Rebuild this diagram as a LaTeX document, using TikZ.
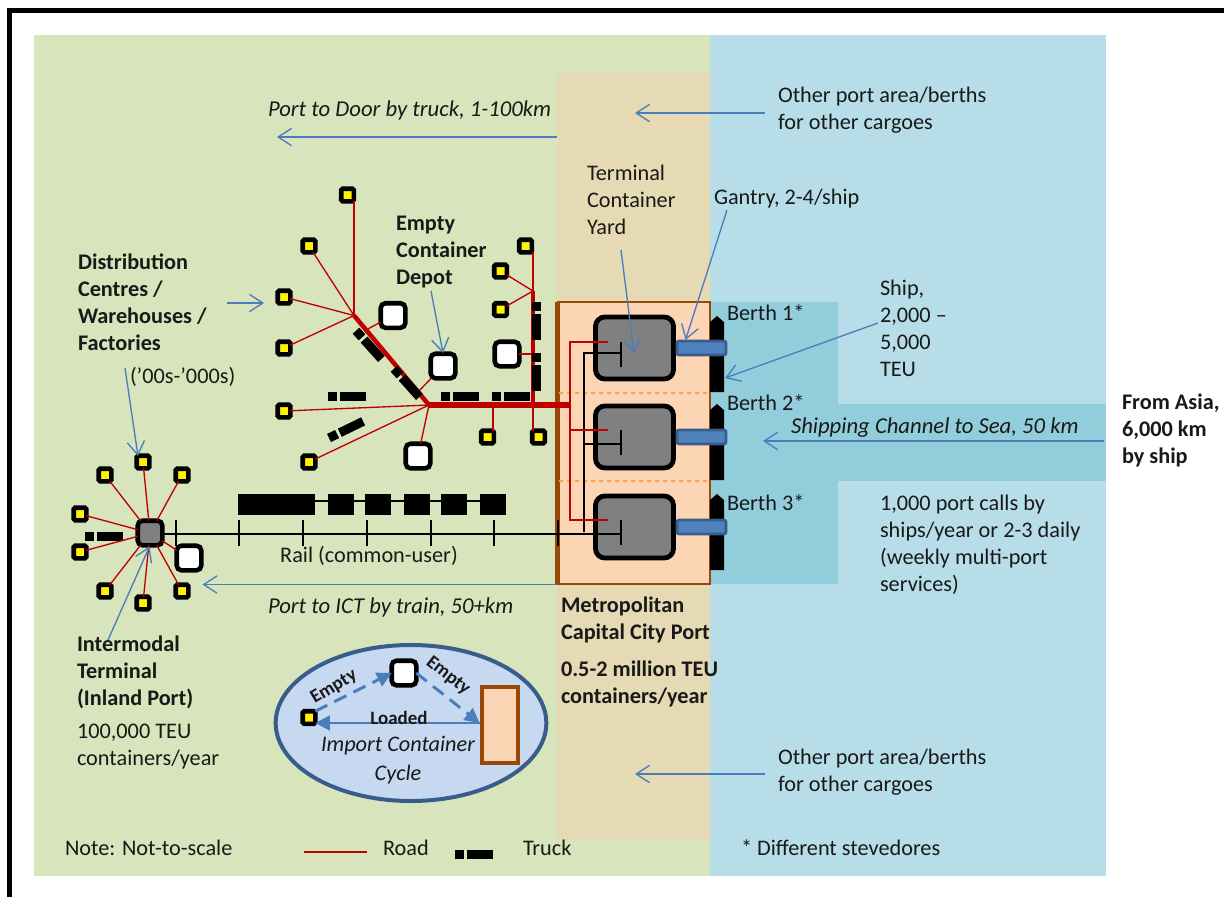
\documentclass[tikz,border=0pt]{standalone}
\usepackage{fontspec}
\setmainfont{Carlito}
\usetikzlibrary{arrows.meta,shapes.geometric}
\definecolor{landgreen}{RGB}{216,228,188}
\definecolor{seablue}{RGB}{183,222,232}
\definecolor{berthblue}{RGB}{146,205,220}
\definecolor{porttan}{RGB}{230,218,180}
\definecolor{peach}{RGB}{252,213,181}
\definecolor{portbrown}{RGB}{152,72,7}
\definecolor{roadred}{RGB}{192,0,0}
\definecolor{callblue}{RGB}{74,126,187}
\definecolor{gantryblue}{RGB}{79,129,189}
\definecolor{edgeblue}{RGB}{56,93,138}
\definecolor{cyclefill}{RGB}{198,217,241}
\definecolor{zoneorange}{RGB}{250,160,85}
\definecolor{yardgrey}{RGB}{128,128,128}

\tikzset{
  lbl/.style={inner sep=0pt, outer sep=0pt, anchor=west, align=left, text=black!90,
    font=\fontsize{16.7}{20.25}\selectfont},
  lblb/.style={lbl, font=\fontsize{16.7}{20.25}\selectfont\bfseries},
  lbli/.style={lbl, font=\fontsize{17}{20.25}\selectfont\itshape},
  lblc/.style={lbl, anchor=center, font=\fontsize{14.2}{17}\selectfont\bfseries},
  small/.style={draw=black, fill=yellow, line width=3.4pt, rounded corners=1pt,
    inner sep=0pt, outer sep=0pt, minimum size=9.4pt},
  depot/.style={draw=black, fill=white, line width=3.4pt, rounded corners=3.5pt,
    inner sep=0pt, outer sep=0pt, minimum size=18.4pt},
  yard/.style={draw=black, fill=yardgrey, line width=3.6pt, rounded corners=7pt,
    inner sep=0pt, outer sep=0pt, minimum width=58.5pt, minimum height=46.5pt},
  road/.style={draw=roadred, line width=1pt},
  mainroad/.style={draw=roadred, line width=3.4pt},
  rail/.style={draw=black, line width=0.9pt},
  callout/.style={draw=callblue, line width=1pt, -{Straight Barb[length=10pt,width=13pt]}},
  cycle/.style={draw=callblue, line width=2.2pt, -{Triangle[length=11pt,width=11pt]}},
  truckpic/.pic={
    \fill[black] (0,-4.5) rectangle (9,4.5);
    \fill[black] (12,-4.5) rectangle (38,4.5);
  }
}

\begin{document}
\begin{tikzpicture}[x=0.75pt, y=-0.75pt]
  \useasboundingbox (0,0) rectangle (1224,897);
  % frame
  \draw[line width=3.6pt] (9.7,897) -- (9.7,10.7) -- (1224,10.7);
  % land, sea, port strip
  \fill[landgreen] (34,35) rectangle (710,876);
  \fill[seablue] (710,35) rectangle (1106,876);
  \fill[porttan] (557,73) rectangle (710,840);
  \fill[berthblue] (710,302) rectangle (838,584);
  \fill[berthblue] (838,404) rectangle (1106,481);

  % port
  \fill[peach] (557,302) rectangle (710,584);
  \draw[portbrown, line width=2pt] (557,302) -- (710,302) -- (710,584) -- (557,584);
  \draw[portbrown, line width=3.2pt] (557.5,302) -- (557.5,584);
  \foreach \y in {393,481} \draw[zoneorange, line width=1pt, dashed] (559,\y) -- (708,\y);

  % ships
  \foreach \y in {316,404,494} \fill[black] (710,\y+6) -- (717,\y) -- (724,\y+6) -- (724,\y+76) -- (710,\y+76) -- cycle;

  % gantries
  \foreach \n/\y in {1/348,2/437,3/527}{
    \node[yard] (yard\n) at (634.5,\y) {};
    \draw[edgeblue, fill=gantryblue, line width=2pt, rounded corners=1.5pt] (677,\y-7) rectangle (726,\y+7);
  }

  % rail
  \foreach \x in {176,239,303,367,431,494,558} \draw[rail] (\x,520) -- (\x,546);
  \draw[rail] (315,501) -- (480,501);
  \foreach \a/\b in {238/315,328/354,365/391,404/430,441/467,480/506} \fill[black] (\a,494) rectangle (\b,515);
  \foreach \y in {342,430,520} \draw[rail, line width=1.4pt] (621,\y) -- (621,\y+25);
  \draw[rail] (584,532) -- (584,353) -- (621,353);
  \draw[rail] (584,444) -- (621,444);

  % hub
  \node[yard, minimum width=18.4pt, minimum height=18.4pt, rounded corners=3.5pt, line width=3.4pt] (hub) at (150,533) {};
  \draw[rail] (hub.east |- 0,534) -- (621,534);

  % port roads
  \draw[road] (608,342) -- (570,342) -- (570,520) -- (608,520);
  \draw[road] (570,430) -- (608,430);

  % road junctions
  \coordinate (juncA) at (354,315.5);
  \coordinate (juncB) at (429,405);
  \coordinate (juncC) at (533,291);
  \coordinate (juncD) at (533,405);
  \coordinate (juncE) at (493,405);
  \coordinate (gate) at (570,405);

  % yards and depots by the roads
  \foreach \n/\x/\y in {a/347.5/195,b/309/246,c/284/297,d/284/348,e/284/411,f/309/462,g/487.5/437,h/538.5/437,i/525.5/246,j/500.5/271,k/500.5/309.5}
    \node[small] (sm\n) at (\x,\y) {};
  \foreach \n/\x/\y in {a/393/315.5,b/443/366,c/507/354,d/418/456}
    \node[depot] (dp\n) at (\x,\y) {};

  \draw[road] (sma.south -| juncA) -- (juncA);
  \foreach \n in {b,c,d} \draw[road] (sm\n) -- (juncA);
  \foreach \n in {e,f} \draw[road] (sm\n) -- (juncB);
  \foreach \n in {j,k} \draw[road] (sm\n) -- (juncC);
  \draw[road] (smi.south -| juncC) -- (juncC);
  \draw[road] (smg.north -| juncE) -- (juncE);
  \draw[road] (smh.north -| juncD) -- (juncD);
  \draw[road] (dpa) -- (366,330);
  \draw[road] (dpb) -- (418,392);
  \draw[road] (dpc) -- (533,354);
  \draw[road] (dpd) -- (juncB);
  \draw[mainroad] (juncA) -- (juncB);
  \draw[mainroad] (juncC) -- (juncD);
  \draw[mainroad, line width=4pt] (juncB) -- (gate);

  % trucks
  \foreach \x/\y/\r in {328/396.5/0,441/396.5/0,492/396.5/0,536.5/302/-90,536.5/353/-90,356/330.7/-48,394/368.7/-48,329/438/26,85/536.5/0}
    \pic[rotate=\r] at (\x,\y) {truckpic};

  % intermodal terminal
  \foreach \n/\x/\y in {a/143/462,b/105/475,c/182/475,d/80/514,e/80/552,f/105/591,g/143/603,h/182/591}
    \node[small] (hb\n) at (\x,\y) {};
  \node[depot] (dphub) at (189,558) {};
  \foreach \n in {a,b,c,d,e,f,g,h} \draw[road] (hb\n) -- (hub);
  \draw[road] (dphub) -- (hub);

  % callouts
  \coordinate (door-from) at (557,137);  \coordinate (door-to) at (277,137);
  \coordinate (top-from) at (765,113);   \coordinate (top-to) at (635,113);
  \coordinate (low-from) at (765,774);   \coordinate (low-to) at (635,774);
  \coordinate (ty-from) at (621,250);    \coordinate (ty-to) at (634,353);
  \coordinate (gy-from) at (727,210);    \coordinate (gy-to) at (685.5,340);
  \coordinate (sh-from) at (878,323);    \coordinate (sh-to) at (725,378);
  \coordinate (ch-from) at (1104,441);   \coordinate (ch-to) at (763,441);
  \coordinate (dc-from) at (227,303);    \coordinate (dc-to) at (264,303);
  \coordinate (ec-from) at (431,291);    \coordinate (ec-to) at (443,353);
  \coordinate (wr-from) at (125,368);    \coordinate (wr-to) at (138,456);
  \coordinate (im-from) at (108,640);    \coordinate (im-to) at (149.5,546.5);
  \coordinate (ic-from) at (557,584.5);  \coordinate (ic-to) at (202.5,584.5);
  \foreach \a in {door,top,low,ty,gy,sh,ch,dc,ec,wr,im,ic}
    \draw[callout] (\a-from) -- (\a-to);

  % cycle
  \node[draw=edgeblue, fill=cyclefill, line width=3pt, shape=ellipse, inner sep=0pt, minimum width=203pt, minimum height=117pt] (cyc) at (411,723) {};
  \node[small] (cycsm) at (309,717.5) {};
  \node[depot] (cycdp) at (404,673) {};
  \node[draw=portbrown, fill=peach, line width=3pt, inner sep=0pt, minimum width=27pt, minimum height=57pt] (cycport) at (499.5,724.5) {};
  \draw[cycle, dash pattern=on 10pt off 6pt] (cycsm.north east) -- (cycdp.west);
  \draw[cycle, dash pattern=on 10pt off 6pt] (cycdp.east) -- (cycport.west |- 0,723);
  \draw[cycle] (cycport.west |- 0,723) -- (cycsm.east |- 0,723);
  \node[lblc, rotate=31] (cycea) at (334,687) {Empty};
  \node[lblc, rotate=-38] (cyceb) at (448,676) {Empty};
  \node[lblc] (cycld) at (399,718) {Loaded};
  \node[lbli, font=\fontsize{16.7}{20.25}\selectfont\itshape, anchor=center, align=center] (cyctx) at (398,760) {Import Container\\[1pt]Cycle};

  % text
  \node[lbli] (tdoor) at (268,110) {Port to Door by truck, 1-100km};
  \node[lbl] (ttop) at (778,110.5) {Other port area/berths\\for other cargoes};
  \node[lbl] (tlow) at (778,772.5) {Other port area/berths\\for other cargoes};
  \node[lbl] (tyard) at (587,199.5) {Terminal\\Container\\Yard};
  \node[lbl] (tgant) at (714,199) {Gantry, 2-4/ship};
  \node[lblb] (tdepot) at (396,252.5) {Empty\\Container\\Depot};
  \node[lblb] (tdist) at (78,302.5) {Distribution\\Centres /\\Warehouses /\\Factories};
  \node[lbl] (tcount) at (130,377) {('00s-'000s)};
  \node[lbl] (tship) at (880,328) {Ship,\\2,000 –\\5,000\\TEU};
  \node[lbl] (tbone) at (727,313) {Berth 1*};
  \node[lbl] (tbtwo) at (727,403) {Berth 2*};
  \node[lbl] (tbthr) at (727,503) {Berth 3*};
  \node[lbli] (tchan) at (791,428) {Shipping Channel to Sea, 50 km};
  \node[lblb] (tasia) at (1122,430) {From Asia,\\6,000 km\\by ship};
  \node[lbl] (tcalls) at (880,545) {1,000 port calls by\\ships/year or 2-3 daily\\(weekly multi-port\\services)};
  \node[lbl, anchor=center] (trail) at (369,556) {Rail (common-user)};
  \node[lbli] (ticd) at (268,607) {Port to ICT by train, 50+km};
  \node[lblb] (tcity) at (561,620) {Metropolitan\\Capital City Port};
  \node[lblb] (tteu) at (561,683.5) {0.5-2 million TEU\\containers/year};
  \node[lblb] (tinl) at (77,672) {Intermodal\\Terminal\\(Inland Port)};
  \node[lbl] (tinc) at (77,747) {100,000 TEU\\containers/year};

  % legend
  \node[lbl] (tnote) at (65,848) {Note: Not-to-scale};
  \coordinate (legroad) at (304,852);
  \draw[road] (legroad) -- (367,852);
  \node[lbl] (troad) at (383,848) {Road};
  \pic at (455,854) {truckpic};
  \node[lbl] (ttruck) at (523,848) {Truck};
  \node[lbl] (tstev) at (741,848) {* Different stevedores};
\end{tikzpicture}
\end{document}
